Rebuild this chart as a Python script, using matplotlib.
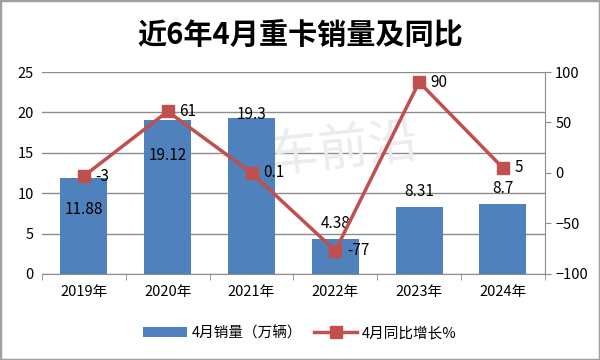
import numpy as np
import matplotlib.pyplot as plt
from matplotlib.patches import Rectangle

plt.rcParams['font.family'] = ['Noto Sans CJK SC', 'DejaVu Sans']

years = ['2019年', '2020年', '2021年', '2022年', '2023年', '2024年']
sales = [11.88, 19.12, 19.3, 4.38, 8.31, 8.7]
yoy = [-3, 61, 0.1, -77, 90, 5]
sales_labels = ['11.88', '19.12', '19.3', '4.38', '8.31', '8.7']
yoy_labels = ['-3', '61', '0.1', '-77', '90', '5']

bar_c = '#4F81BD'
line_c = '#C0504D'

fig = plt.figure(figsize=(6, 3.6), dpi=100)
fig.patches.append(Rectangle((0, 0), 1, 1, transform=fig.transFigure,
                             fill=False, edgecolor='#a0a0a0', linewidth=2.5))
ax = fig.add_axes([0.07, 0.239, 0.838, 0.561])
x = np.arange(len(years))
bars = ax.bar(x, sales, 0.56, color=bar_c, label='4月销量（万辆）', zorder=2)
ax.set_xlim(-0.5, 5.5)
ax.set_ylim(0, 25)
ax.set_yticks([0, 5, 10, 15, 20, 25])
ax.yaxis.grid(True, color='#8c8c8c', linewidth=1)
ax.set_axisbelow(True)
for s in ['top', 'right', 'left']:
    ax.spines[s].set_visible(False)
ax.spines['bottom'].set_color('#8c8c8c')
ax.tick_params(axis='y', length=0, labelsize=10.5, pad=6)
ax.set_xticks(x)
ax.set_xticklabels(years)
ax.tick_params(axis='x', length=0, labelsize=10.5, pad=8)
ax.set_xticks(np.arange(-0.5, 6, 1), minor=True)
ax.tick_params(axis='x', which='minor', length=4, color='#8c8c8c')

# watermark behind the bars
ax.text(0.55, 0.6, '卡车前沿', transform=ax.transAxes, ha='center', va='center',
        fontsize=36, color='#ececec', rotation=6, zorder=1.5)

# bar labels: some inside, some above
offsets = [-5, -5.5, -0.6, 0.8, 0.8, 0.8]
for i, v in enumerate(sales):
    ax.text(i, v + offsets[i], sales_labels[i], ha='center', va='bottom',
            fontsize=11, color='black', zorder=5)

ax2 = ax.twinx()
ax2.plot(x, yoy, color=line_c, linewidth=2.5, marker='s', markersize=9,
         label='4月同比增长%', zorder=4)
ax2.set_ylim(-100, 100)
ax2.set_yticks([-100, -50, 0, 50, 100])
for s in ['top', 'left', 'bottom']:
    ax2.spines[s].set_visible(False)
ax2.spines['right'].set_color('#8c8c8c')
ax2.tick_params(axis='y', length=4, color='#8c8c8c', labelsize=10.5)
for i, v in enumerate(yoy):
    ax2.text(i + 0.14, v, yoy_labels[i], ha='left', va='center', fontsize=11)

fig.suptitle('近6年4月重卡销量及同比', y=0.945, fontsize=21, fontweight='bold')

h1, l1 = ax.get_legend_handles_labels()
h2, l2 = ax2.get_legend_handles_labels()
fig.legend(h1 + h2, l1 + l2, loc='center', bbox_to_anchor=(0.5, 0.075), ncol=2,
           frameon=False, fontsize=10.5, handlelength=3, columnspacing=0.8,
           handletextpad=0.3)

fig.savefig('out.png', dpi=100)
